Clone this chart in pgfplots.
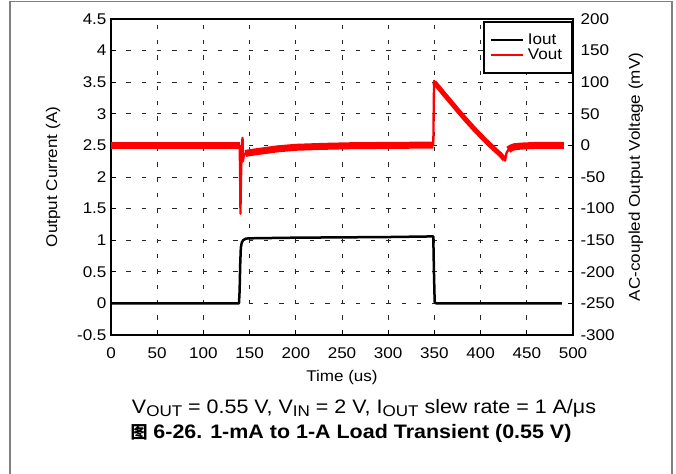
\documentclass[border=0pt]{standalone}
\usepackage{fontspec}
\setmainfont{Liberation Sans}[FakeStretch=1.1]
\newfontfamily\cjk{Noto Sans CJK SC}
\usepackage{pgfplots}
\pgfplotsset{compat=1.18}
\newcommand\sub[1]{\raisebox{-3.4pt}{\fontsize{15.5}{16}\selectfont #1}}
\begin{document}
\begin{tikzpicture}
\useasboundingbox (-111pt,-138pt) rectangle (565pt,335pt);
\draw[gray, line width=1.7pt] (-101pt,-150pt) -- (-101pt,333.6pt) -- (561pt,333.6pt) -- (561pt,-150pt);
\begin{axis}[
  at={(0pt,0pt)}, anchor=south west,
  scale only axis, width=462pt, height=316pt,
  xmin=0, xmax=500, ymin=-0.5, ymax=4.5,
  xtick={0,50,100,150,200,250,300,350,400,450,500},
  ytick={-0.5,0,0.5,1,1.5,2,2.5,3,3.5,4,4.5},
  ytick pos=left, xtick pos=bottom,
  tick align=inside, major tick length=5pt,
  tick style={black, line width=0.8pt},
  grid=major,
  major grid style={black!85, line width=0.8pt, dash pattern=on 4.3pt off 11pt},
  axis line style={line width=2.5pt},
  /pgf/number format/assume math mode=true,
  ticklabel style={font=\fontsize{15.5}{18}\selectfont},
  xticklabel style={yshift=-9pt},
  yticklabel style={xshift=-1pt},
  label style={font=\fontsize{15.5}{18}\selectfont},
  xlabel={Time (us)}, ylabel={Output Current (A)},
  xlabel style={at={(axis description cs:0.5,-0.1456)}, anchor=base},
  ylabel style={at={(axis description cs:-0.1255,0.5)}, anchor=center},
]
\addplot[black, line width=2.5pt, line join=round] coordinates {
(0,0) (138.5,0) (139.2,0.2) (139.8,0.6) (140.5,0.88) (141.5,0.96) (143,1.0) (146,1.025) (150,1.03) (200,1.04) (300,1.05) (348.8,1.06) (349.5,0.5) (350.3,0.02) (352,0) (488,0)
};
\end{axis}
\begin{axis}[
  at={(0pt,0pt)}, anchor=south west,
  scale only axis, width=462pt, height=316pt,
  xmin=0, xmax=500, ymin=-300, ymax=200,
  axis y line*=right, axis x line=none,
  ytick={-300,-250,-200,-150,-100,-50,0,50,100,150,200},
  tick align=inside, major tick length=5pt,
  tick style={black, line width=0.8pt},
  axis line style={line width=2.5pt},
  /pgf/number format/assume math mode=true,
  ticklabel style={font=\fontsize{15.5}{18}\selectfont},
  yticklabel style={xshift=4pt},
  label style={font=\fontsize{15.5}{18}\selectfont},
  ylabel={AC-coupled Output Voltage (mV)},
  ylabel style={at={(axis description cs:1.136,0.5)}, anchor=center},
  legend style={at={(axis description cs:1,1)}, anchor=north east, yshift=-2pt,
    draw=black, line width=2pt, fill=white, font=\fontsize{15.5}{18}\selectfont,
    inner xsep=6pt, inner ysep=10pt, row sep=-1pt,
    nodes={inner xsep=4pt}},
  legend image code/.code={\draw[#1, line width=2pt] (0pt,0pt) -- (32pt,0pt);},
  legend cell align=left,
]
\addlegendimage{black, line width=2pt, legend image code/.code={\draw[black, line width=2pt] (0pt,0pt) -- (32pt,0pt);}}
\addlegendentry{Iout}
\addplot[red, line width=2.3pt, line join=round, legend image code/.code={\draw[red, line width=2pt] (0pt,0pt) -- (32pt,0pt);}] coordinates {
(0,0) (139.3,0) (139.8,-60) (140.1,-108) (140.6,-60) (141.2,-20) (141.8,5) (142.4,12) (142.8,-25) (143.5,-18) (145,-13) (148,-12) (155,-10.5) (165,-8.5) (180,-5.5) (200,-3) (230,-1.5) (260,-0.5) (300,0) (348.8,0.5) (349.6,102) (351,99) (355,91) (360,82) (367,70) (375,56) (385,39) (395,23) (403,11) (412,-2) (421,-14) (426.5,-24) (428,-12) (430,-7) (433,-4) (437,-2) (445,-1) (460,0) (490,0)
};
\addlegendentry{Vout}
\addplot[red, line width=7.5pt, forget plot] coordinates {(0,0) (139.2,0)};
\addplot[red, line width=7pt, line join=round, forget plot] coordinates {
(145.5,-13) (148,-12) (155,-10.5) (165,-8.5) (180,-5.5) (200,-3) (230,-1.5) (260,-0.5) (300,0) (348.8,0.5)
};
\addplot[red, line width=5pt, line join=round, forget plot] coordinates {
(349.8,100) (351,98) (355,91) (360,82) (367,70) (375,56) (385,39) (395,23) (403,11) (412,-2) (421,-14) (426,-22)
};
\addplot[red, line width=7pt, line join=round, forget plot] coordinates {
(430,-7) (433,-4) (437,-2) (445,-1) (460,0) (490,0)
};
\end{axis}
\node[anchor=base, font=\fontsize{19.5}{22}\selectfont] at (253pt,-78pt)
  {V\sub{OUT} = 0.55 V, V\sub{IN} = 2 V, I\sub{OUT} slew rate = 1 A/μs};
\node[anchor=base, font=\bfseries\fontsize{19.5}{22}\selectfont] at (240pt,-103pt)
  {{\cjk\fontsize{17}{20}\selectfont 图} 6-26. 1-mA to 1-A Load Transient (0.55 V)};
\end{tikzpicture}
\end{document}
